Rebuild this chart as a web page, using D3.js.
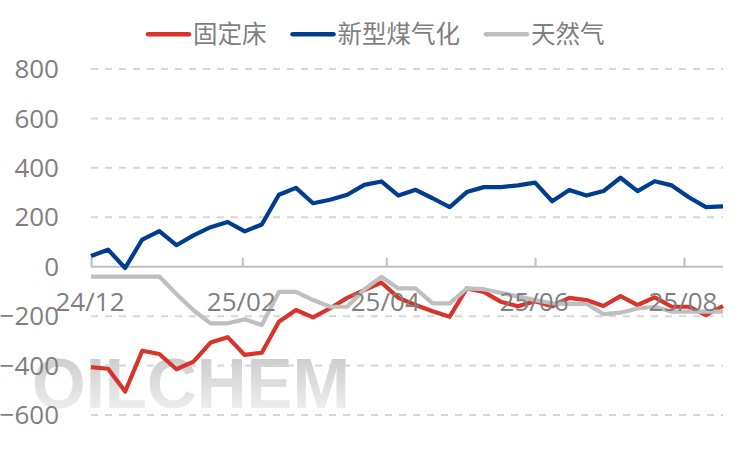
<!DOCTYPE html>
<html><head><meta charset="utf-8">
<script src="https://cdn.jsdelivr.net/npm/d3@7"></script>
<style>
html,body{margin:0;padding:0;background:#fff;}
svg{display:block;}
text{font-family:"Open Sans","Noto Sans CJK SC",sans-serif;}
</style></head>
<body><svg id="c" width="751" height="456"></svg>
<script>
// ---- data ----
const categories = ["2024-12-01","2024-12-08","2024-12-15","2024-12-22","2024-12-29",
"2025-01-05","2025-01-12","2025-01-19","2025-01-26","2025-02-02","2025-02-09","2025-02-16","2025-02-23",
"2025-03-02","2025-03-09","2025-03-16","2025-03-23","2025-03-30","2025-04-06","2025-04-13","2025-04-20","2025-04-27",
"2025-05-04","2025-05-11","2025-05-18","2025-05-25","2025-06-01","2025-06-08","2025-06-15","2025-06-22","2025-06-29",
"2025-07-06","2025-07-13","2025-07-20","2025-07-27","2025-08-03","2025-08-10","2025-08-17"];
const fixedBed = [-406,-413,-505,-340,-353,-415,-384,-307,-285,-357,-348,-223,-175,-205,-168,-126,-95,-64,-126,-155,-180,-202,-88,-102,-142,-160,-140,-160,-126,-135,-159,-119,-155,-124,-162,-162,-196,-159];
const newCoalGas = [43,69,-5,110,144,87,127,160,181,143,171,291,319,257,271,291,331,345,288,311,277,241,302,322,322,329,340,265,310,288,306,360,306,346,329,281,241,244];
const naturalGas = [-40,-40,-40,-40,-40,-110,-176,-229,-229,-213,-236,-102,-102,-135,-162,-162,-92,-41,-88,-88,-148,-148,-88,-91,-106,-120,-135,-148,-150,-150,-192,-186,-169,-162,-182,-182,-182,-182];
const seriesNames = ["固定床","新型煤气化","天然气"];
const seriesColors = ["#d9342b","#003d8f","#bfbfbf"];
const yTicks = [800,600,400,200,0,-200,-400,-600];
const xTickLabels = ["24/12","25/02","25/04","25/06","25/08"];

// ---- chart ----
const svg = d3.select("#c");
const parse = d3.utcParse("%Y-%m-%d");
const dates = categories.map(parse);
const x = d3.scaleUtc().domain(d3.extent(dates)).range([91, 723]);
const y = d3.scaleLinear().domain([-600, 800]).range([415, 69]);

// watermark
const defs = svg.append("defs");
const grad = defs.append("linearGradient").attr("id","wm").attr("x1",0).attr("y1",0).attr("x2",0).attr("y2",1);
grad.append("stop").attr("offset","0%").attr("stop-color","#c4c4c4");
grad.append("stop").attr("offset","100%").attr("stop-color","#f6f6f6");
svg.append("text").attr("x",32).attr("y",408)
  .attr("textLength",318).attr("lengthAdjust","spacingAndGlyphs")
  .style("font-family","'Liberation Sans',Arial,sans-serif").style("font-weight","bold")
  .style("font-size","71px").attr("fill","url(#wm)").text("OILCHEM");

// gridlines
svg.append("g").selectAll("line").data(yTicks.filter(d=>d!==0)).join("line")
  .attr("x1",91).attr("x2",723).attr("y1",d=>y(d)).attr("y2",d=>y(d))
  .attr("stroke","#d6d6d6").attr("stroke-width",2).attr("stroke-dasharray","7,7");

// y labels
const yAxis = d3.axisLeft(y).tickValues(yTicks).tickSize(0).tickPadding(0);
const gy = svg.append("g").attr("transform","translate(59,0)").call(yAxis);
gy.select(".domain").remove();
gy.selectAll("text").attr("fill","#7f7f7f").style("font-size","26px").attr("dy","0.33em")
  .style("font-family","'Open Sans',sans-serif");

// x axis line + ticks
const tickDates = xTickLabels.map(s=>parse("20"+s.slice(0,2)+"-"+s.slice(3,5)+"-01"));
const xAxis = d3.axisTop(x).tickValues(tickDates).tickSize(9).tickFormat("");
const gx = svg.append("g").attr("transform",`translate(0,${y(0)})`).call(xAxis);
gx.select(".domain").attr("stroke","#bfbfbf").attr("stroke-width",2).attr("d",`M91,0H723`);
gx.selectAll(".tick line").attr("stroke","#bfbfbf").attr("stroke-width",2);

// lines
const allSeries = [fixedBed, newCoalGas, naturalGas];
const line = d3.line().x((d,i)=>x(dates[i])).y(d=>y(d));
const drawOrder = [1,0,2];
drawOrder.forEach(k=>{
  svg.append("path").datum(allSeries[k]).attr("d",line).attr("fill","none")
    .attr("stroke",seriesColors[k]).attr("stroke-width",4.2)
    .attr("stroke-linejoin","round").attr("stroke-linecap","butt");
});

// x labels on top
svg.append("g").selectAll("text").data(tickDates).join("text")
  .attr("x",d=>x(d)-1).attr("y",y(0)+44).attr("text-anchor","middle")
  .attr("fill","#7f7f7f").style("font-size","26px")
  .text((d,i)=>xTickLabels[i]);

// legend
const lg = svg.append("g");
let lx = 146;
seriesNames.forEach((n,i)=>{
  lg.append("line").attr("x1",lx+2).attr("x2",lx+43).attr("y1",34.3).attr("y2",34.3)
    .attr("stroke",seriesColors[i]).attr("stroke-width",4.5).attr("stroke-linecap","round");
  const t = lg.append("text").attr("x",lx+47).attr("y",42.5)
    .style("font-family","'Noto Sans CJK SC',sans-serif").style("font-size","24.5px")
    .attr("fill","#7f7f7f").text(n);
  lx = lx + 47 + t.node().getComputedTextLength() + 24;
});
</script></body></html>
